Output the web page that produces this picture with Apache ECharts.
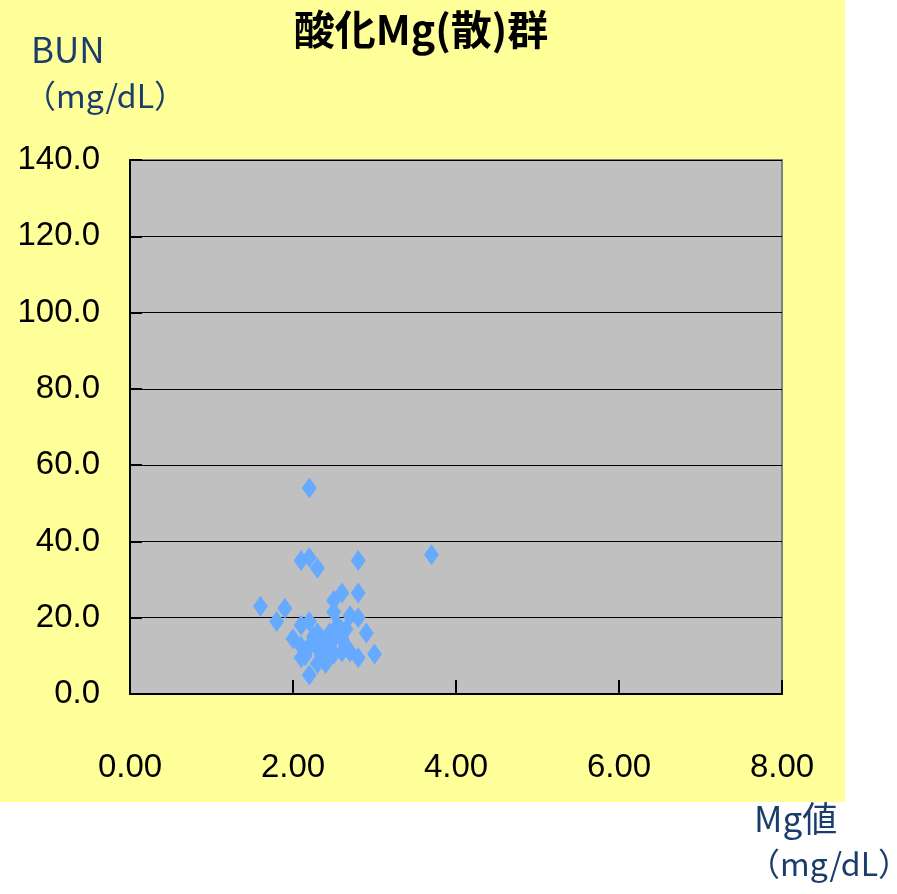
<!DOCTYPE html>
<html>
<head>
<meta charset="utf-8">
<script src="https://cdn.jsdelivr.net/npm/echarts@6/dist/echarts.min.js"></script>
<style>
  html, body { margin: 0; padding: 0; background: #ffffff; }
  #chart { width: 897px; height: 894px; }
</style>
</head>
<body>
<div id="chart"></div>
<script>
// Mg value (mg/dL) and BUN (mg/dL) for each patient in the magnesium oxide (powder) group
const mgValues = [
  2.2, 3.7, 2.1, 2.2, 2.3, 2.8,
  1.6, 1.9, 1.8, 2.0, 2.1, 2.2, 2.1, 2.2,
  2.6, 2.8, 2.5, 2.7, 2.8, 2.9, 3.0, 2.8, 2.7,
  2.5, 2.55, 2.45, 2.3, 2.35, 2.35, 2.4, 2.2, 2.15, 2.3,
  2.5, 2.6, 2.6, 2.65, 2.45, 2.1, 2.25, 2.4, 2.55, 2.65, 2.5, 2.3
];
const bunValues = [
  54, 36.5, 35, 35.8, 33, 35,
  23, 22.5, 19, 14.5, 18, 19, 9.5, 5,
  26.5, 26.5, 24.5, 20.5, 20, 16, 10.5, 9.5, 11,
  21.5, 18, 12.5, 16, 14.5, 10, 8, 12.5, 10, 8,
  14.5, 14.5, 11, 12.5, 16, 12.5, 15, 13, 16.5, 17, 10.5, 12
];

const xTicks = { min: 0, max: 8, step: 2 };
const yTicks = { min: 0, max: 140, step: 20 };

const titleText = '酸化Mg(散)群';
const yAxisTitle = ['BUN', '（mg/dL）'];
const xAxisTitle = ['Mg値', '（mg/dL）'];

const points = mgValues.map((m, i) => [m, bunValues[i]]);

const chart = echarts.init(document.getElementById('chart'), null, { renderer: 'canvas' });

const numFont = '"Liberation Sans", Arial, sans-serif';
const jpFont = '"Noto Sans CJK JP", "Noto Sans", sans-serif';
const navy = '#1B3D6B';

chart.setOption({
  backgroundColor: '#ffffff',
  animation: false,
  graphic: [
    {
      type: 'rect', z: -10, silent: true,
      shape: { x: 0, y: 0, width: 845, height: 802 },
      style: { fill: '#FFFF99' }
    },
    {
      type: 'text', x: 421, y: 9, z: 10,
      style: { text: titleText, font: 'bold 41px ' + jpFont, fill: '#000000', textAlign: 'center' }
    },
    {
      type: 'text', left: 31, top: 32, z: 10,
      style: { text: yAxisTitle[0], font: '35px ' + jpFont, fill: navy }
    },
    {
      type: 'text', left: 24, top: 80, z: 10,
      style: { text: yAxisTitle[1], font: '32px ' + jpFont, fill: navy }
    },
    {
      type: 'text', left: 754, top: 801, z: 10,
      style: { text: xAxisTitle[0], font: '35px ' + jpFont, fill: navy }
    },
    {
      type: 'text', left: 748, top: 848, z: 10,
      style: { text: xAxisTitle[1], font: '32px ' + jpFont, fill: navy }
    }
  ],
  grid: {
    left: 130, top: 160, right: 115, bottom: 200,
    show: true,
    backgroundColor: '#C0C0C0',
    borderColor: '#808080',
    borderWidth: 2
  },
  xAxis: {
    type: 'value',
    min: xTicks.min, max: xTicks.max, interval: xTicks.step,
    axisLine: { show: true, onZero: false, lineStyle: { color: '#000000', width: 2 } },
    axisTick: { show: true, inside: true, length: 14, lineStyle: { color: '#000000', width: 2 } },
    splitLine: { show: false },
    axisLabel: {
      margin: 57,
      formatter: v => v.toFixed(2),
      color: '#000000',
      fontFamily: numFont,
      fontSize: 33
    }
  },
  yAxis: {
    type: 'value',
    min: yTicks.min, max: yTicks.max, interval: yTicks.step,
    axisLine: { show: true, onZero: false, lineStyle: { color: '#000000', width: 2 } },
    axisTick: { show: true, inside: true, length: 12, lineStyle: { color: '#000000', width: 2 } },
    splitLine: { show: true, lineStyle: { color: '#000000', width: 1 } },
    axisLabel: {
      margin: 30,
      formatter: v => v.toFixed(1),
      color: '#000000',
      fontFamily: numFont,
      fontSize: 33
    }
  },
  series: [{
    type: 'scatter',
    data: points,
    symbol: 'diamond',
    symbolSize: [15, 21],
    itemStyle: { color: '#66AAFF', opacity: 1 },
    emphasis: { disabled: true }
  }]
});
</script>
</body>
</html>
